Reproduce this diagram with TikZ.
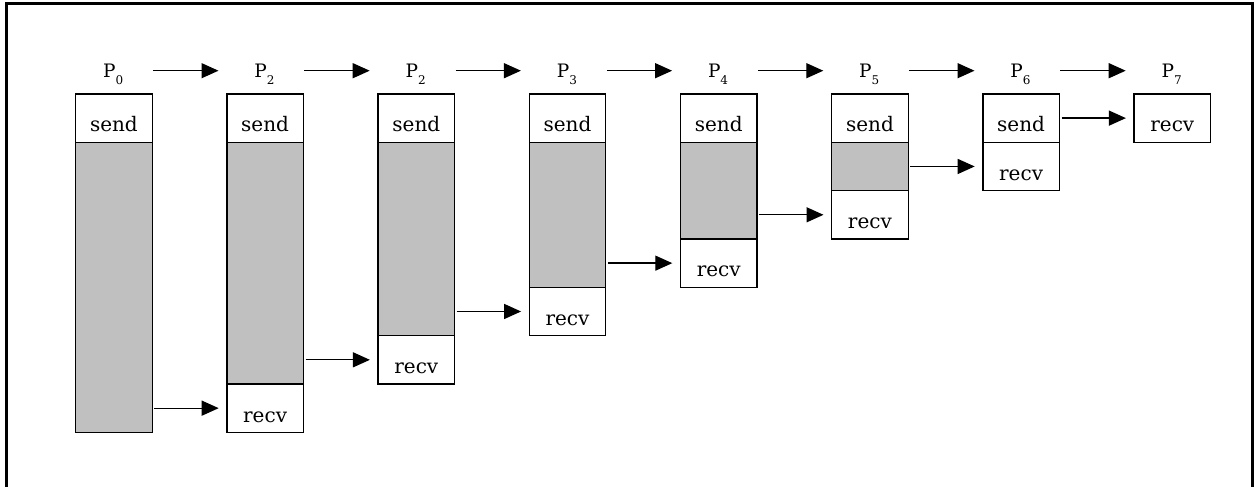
\documentclass[tikz,border=0pt]{standalone}
\usepackage{fontspec}
\setmainfont{DejaVu Serif}
\usetikzlibrary{arrows.meta}
\definecolor{busy}{RGB}{192,192,192}
\tikzset{
  cell/.style={draw=black, line width=1.3pt, minimum width=76.5pt,
    minimum height=48.34pt, inner sep=0pt, anchor=north west,
    font=\fontsize{20}{20}\selectfont, text height=27.7pt, text depth=0pt},
  waitcell/.style={cell, fill=busy},
  plabel/.style={minimum width=76.5pt, inner sep=0pt, anchor=center,
    text height=13pt, text depth=0pt, font=\fontsize{18.5}{18.5}\selectfont},
  link/.style={line width=1.3pt, -{Triangle[length=17pt,width=15pt]},
    shorten <=1.5pt, shorten >=7.5pt},
}
\newcommand{\proc}[1]{P\raisebox{-7.5pt}{\fontsize{12}{12}\selectfont #1}}
\begin{document}
\begin{tikzpicture}[x=1pt,y=-1pt]
\useasboundingbox (0,0) rectangle (1255,487);
% outer frame (bottom edge lies below the page)
\draw[line width=3.3pt] (6.5,487) -- (6.5,3.5) -- (1252.5,3.5) -- (1252.5,487);

% process labels
\node[plabel] (L0) at (113.25,70.7)  {\proc{0}};
\node[plabel] (L1) at (264.45,70.7)  {\proc{2}};
\node[plabel] (L2) at (415.65,70.7)  {\proc{2}};
\node[plabel] (L3) at (566.85,70.7)  {\proc{3}};
\node[plabel] (L4) at (718.05,70.7)  {\proc{4}};
\node[plabel] (L5) at (869.25,70.7)  {\proc{5}};
\node[plabel] (L6) at (1020.45,70.7) {\proc{6}};
\node[plabel] (L7) at (1171.65,70.7) {\proc{7}};

% column 0
\node[cell] (S0) at (75,93.3) {send};
\node[waitcell, minimum height=290.04pt] (G0) at (75,141.64) {};
% column 1
\node[cell] (S1) at (226.2,93.3) {send};
\node[waitcell, minimum height=241.7pt] (G1) at (226.2,141.64) {};
\node[cell] (R1) at (226.2,383.34) {recv};
% column 2
\node[cell] (S2) at (377.4,93.3) {send};
\node[waitcell, minimum height=193.36pt] (G2) at (377.4,141.64) {};
\node[cell] (R2) at (377.4,335.0) {recv};
% column 3
\node[cell] (S3) at (528.6,93.3) {send};
\node[waitcell, minimum height=145.02pt] (G3) at (528.6,141.64) {};
\node[cell] (R3) at (528.6,286.66) {recv};
% column 4
\node[cell] (S4) at (679.8,93.3) {send};
\node[waitcell, minimum height=96.68pt] (G4) at (679.8,141.64) {};
\node[cell] (R4) at (679.8,238.32) {recv};
% column 5
\node[cell] (S5) at (831,93.3) {send};
\node[waitcell] (G5) at (831,141.64) {};
\node[cell] (R5) at (831,189.98) {recv};
% column 6
\node[cell] (S6) at (982.2,93.3) {send};
\node[cell] (R6) at (982.2,141.64) {recv};
% column 7
\node[cell] (R7) at (1133.4,93.3) {recv};

% order of processes
\draw[link] (L0.east) -- (L1.west);
\draw[link] (L1.east) -- (L2.west);
\draw[link] (L2.east) -- (L3.west);
\draw[link] (L3.east) -- (L4.west);
\draw[link] (L4.east) -- (L5.west);
\draw[link] (L5.east) -- (L6.west);
\draw[link] (L6.east) -- (L7.west);

% messages
\draw[link] (G0.east |- R1.west) -- (R1.west);
\draw[link] (G1.east |- R2.west) -- (R2.west);
\draw[link] (G2.east |- R3.west) -- (R3.west);
\draw[link] (G3.east |- R4.west) -- (R4.west);
\draw[link] (G4.east |- R5.west) -- (R5.west);
\draw[link] (G5.east |- R6.west) -- (R6.west);
\draw[link] (S6.east) -- (R7.west);
\end{tikzpicture}
\end{document}
